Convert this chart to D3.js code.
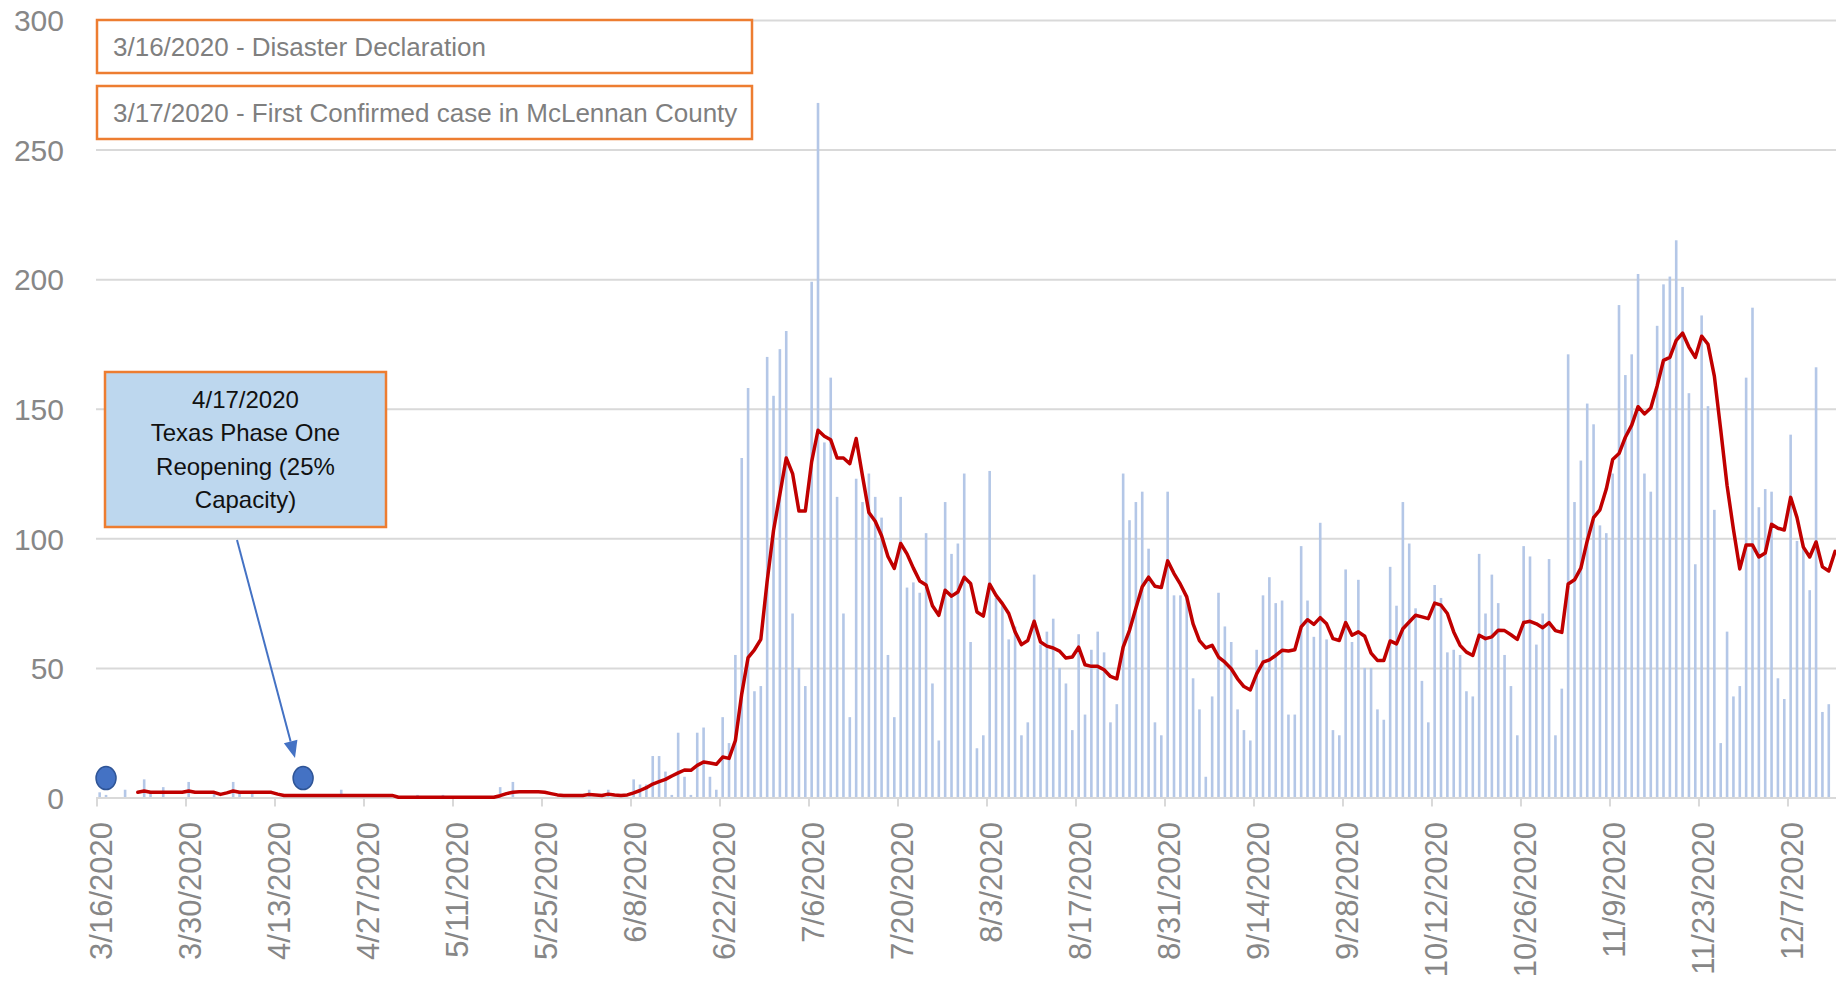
<!DOCTYPE html>
<html><head><meta charset="utf-8">
<script src="https://cdn.jsdelivr.net/npm/d3@7"></script>
<style>
html,body{margin:0;padding:0;background:#fff;}
svg{display:block;}
</style></head>
<body>
<svg id="chart" width="1836" height="988"></svg>
<script>
// ---------------- DATA ----------------
const startDate = "2020-03-16";
// daily new cases, one value per day starting 3/16/2020
const dailyCases = [
  2,1,0,0,3,0,0,7,2,0,
  4,0,0,0,6,0,0,0,2,0,
  0,6,2,0,2,0,0,0,0,1,
  0,0,0,0,0,0,0,0,3,0,
  0,0,0,0,0,0,0,0,0,0,
  1,0,0,0,1,0,0,0,0,0,
  0,0,0,4,0,6,0,0,0,0,
  0,0,0,0,0,0,0,3,0,0,
  3,0,0,0,7,5,5,16,16,10,
  1,25,8,1,25,27,8,3,31,21,
  55,131,158,41,43,170,155,173,180,71,
  50,43,199,268,137,162,116,71,31,123,
  114,125,116,108,55,31,116,81,83,79,
  102,44,22,114,94,98,125,60,19,24,
  126,77,75,61,66,24,29,86,59,64,
  69,50,44,26,63,32,57,64,56,29,
  36,125,107,114,118,96,29,24,118,78,
  78,78,46,34,8,39,79,66,60,34,
  26,22,57,78,85,75,76,32,32,97,
  76,62,106,61,26,24,88,60,84,50,
  50,34,30,89,74,114,98,73,45,29,
  82,77,56,57,55,41,39,94,71,86,
  75,55,43,24,97,93,59,71,92,24,
  42,171,114,130,152,144,105,102,125,190,
  163,171,202,125,118,182,198,201,215,197,
  156,90,186,151,111,21,64,39,43,162,
  189,112,119,118,46,38,140,99,97,80,
  166,33,36
];
// 7-day moving average, same day indexing
const movingAverage = [
  null,null,null,null,null,null,2,2.5,2,2,
  2,2,2,2,2.5,2,2,2,2,1.2,
  1.8,2.5,2,2,2,2,2,2,1.3,0.8,
  0.8,0.8,0.8,0.8,0.8,0.8,0.8,0.8,0.8,0.8,
  0.8,0.8,0.8,0.8,0.8,0.8,0.8,0.1,0.1,0.1,
  0.1,0.1,0.1,0.1,0.1,0.1,0.1,0.1,0.1,0.1,
  0.1,0.1,0.1,0.7,1.5,2,2.2,2.2,2.2,2.2,
  2,1.5,1,0.8,0.8,0.8,0.8,1.2,1,0.8,
  1.3,1,0.8,1,1.8,2.7,3.8,5.2,6.1,7,
  8.3,9.5,10.6,10.5,12.4,13.7,13.3,12.8,15.6,15.1,
  22,40,54,57,61,83.5,103,117,131,125,
  110.5,110.5,129.6,141.7,139.4,138,131,131,128.8,138.5,
  124,110,106.6,101,93,88.4,98,94,88.5,83.5,
  82,74,70.3,80,77.7,79.3,85,82.6,71.6,70,
  82.3,78,74.8,71,63.9,59,60.6,68,60,58.4,
  57.7,56.5,53.8,54.2,58,51.2,50.6,50.6,49.3,46.7,
  45.8,58,64.5,73,81.3,85,81.5,81,91.3,86.4,
  82.3,77.4,67,60.5,57.7,58.7,54.2,52.2,49.7,45.8,
  42.8,41.5,47.7,52.2,53.1,54.8,56.8,56.5,57,65.8,
  68.6,66.8,69.4,67,61.3,60.6,67.5,62.6,63.9,62.2,
  55.7,52.9,52.9,60.4,59.3,65.1,67.7,70.3,69.7,69,
  75,74.2,71,63.9,58.7,56.1,54.8,62.6,61.3,62,
  64.5,64.4,62.8,61,67.5,68,67,65.5,67.5,64.4,
  63.7,82.4,84,88.5,99,108,111,119,130.4,132.7,
  139,143.7,150.8,148,150.3,158.8,168.7,169.8,176.4,179.2,
  173.8,169.8,178,174.9,162.6,141.9,120.4,103.5,88.2,97.4,
  97.4,92.8,94.3,105.4,103.9,103.2,115.8,108,96.6,92.8,
  98.6,89,87.4,95
];
const eventDates = ["2020-03-17", "2020-04-17"];
const eventValues = [7.5, 7.5];
const xTickDates = ["2020-03-16","2020-03-30","2020-04-13","2020-04-27","2020-05-11","2020-05-25",
  "2020-06-08","2020-06-22","2020-07-06","2020-07-20","2020-08-03","2020-08-17","2020-08-31",
  "2020-09-14","2020-09-28","2020-10-12","2020-10-26","2020-11-09","2020-11-23","2020-12-07"];
const xTickLabels = ["3/16/2020","3/30/2020","4/13/2020","4/27/2020","5/11/2020","5/25/2020",
  "6/8/2020","6/22/2020","7/6/2020","7/20/2020","8/3/2020","8/17/2020","8/31/2020",
  "9/14/2020","9/28/2020","10/12/2020","10/26/2020","11/9/2020","11/23/2020","12/7/2020"];
const yTicks = [0, 50, 100, 150, 200, 250, 300];
const headerNotes = ["3/16/2020 - Disaster Declaration", "3/17/2020 - First Confirmed case in McLennan County"];
const calloutLines = ["4/17/2020", "Texas Phase One", "Reopening (25%", "Capacity)"];

// ---------------- LAYOUT ----------------
const W = 1836, H = 988;
const plotLeft = 96.5, dayWidth = 6.357, spanDays = 290;
const yBottom = 797.5, yTop = 20;
const barW = 2.6;
const FONT = "'Liberation Sans', Arial, sans-serif";

const parse = d3.utcParse("%Y-%m-%d");
const start = parse(startDate);
const dayDate = i => d3.utcDay.offset(start, i);

const x = d3.scaleUtc()
  .domain([start, d3.utcDay.offset(start, spanDays)])
  .range([plotLeft, plotLeft + spanDays * dayWidth]);
const y = d3.scaleLinear().domain([0, 300]).range([yBottom, yTop]);
const dw = x(dayDate(1)) - x(dayDate(0));
const cx = i => x(dayDate(i)) + dw / 2;

const svg = d3.select("#chart");
svg.append("rect").attr("width", W).attr("height", H).attr("fill", "#fff");

// gridlines + y labels
const gy = svg.append("g").attr("transform", `translate(96,0)`)
  .call(d3.axisLeft(y).tickValues(yTicks).tickSize(-(W - 96)).tickPadding(32).tickFormat(d3.format("d")));
gy.select(".domain").remove();
gy.selectAll(".tick line").attr("stroke", "#d9d9d9").attr("stroke-width", 2);
gy.selectAll(".tick text").attr("fill", "#878787").style("font-family", FONT).style("font-size", "30px").attr("dy", "0.36em");

// bars
svg.append("g").selectAll("rect").data(dailyCases).join("rect")
  .attr("x", (d, i) => cx(i) - barW / 2)
  .attr("width", barW)
  .attr("y", d => y(d))
  .attr("height", d => yBottom - y(d))
  .attr("fill", "#b4c7e7");

// x axis
const tickDates = xTickDates.map(parse);
const gx = svg.append("g").attr("transform", `translate(0,${yBottom})`)
  .call(d3.axisBottom(x).tickValues(tickDates).tickSize(9).tickSizeOuter(0)
    .tickFormat((d, i) => xTickLabels[i]));
gx.select(".domain").attr("stroke", "#d9d9d9").attr("stroke-width", 2);
gx.selectAll(".tick line").attr("stroke", "#d9d9d9").attr("stroke-width", 2);
gx.selectAll(".tick text")
  .attr("fill", "#878787").style("font-family", FONT).style("font-size", "31px")
  .attr("x", 0).attr("y", 0).attr("dy", "0.36em")
  .attr("transform", `translate(${dw / 2 + 0.5},24.5) rotate(-90)`)
  .style("text-anchor", "end");

// moving average line
const line = d3.line().defined(d => d != null).x((d, i) => cx(i)).y(d => y(d));
svg.append("path").datum(movingAverage)
  .attr("d", line)
  .attr("fill", "none").attr("stroke", "#c00000").attr("stroke-width", 3.5)
  .attr("stroke-linejoin", "round").attr("stroke-linecap", "round");

// event markers
svg.append("g").selectAll("ellipse").data(eventDates).join("ellipse")
  .attr("cx", d => x(parse(d)) + dw / 2)
  .attr("cy", (d, i) => y(eventValues[i]))
  .attr("rx", 10).attr("ry", 11.5)
  .attr("fill", "#4472c4").attr("stroke", "#2f5597").attr("stroke-width", 1.5);

// header annotation boxes
const boxes = [{y: 20}, {y: 86}];
headerNotes.forEach((t, i) => {
  const by = boxes[i].y, bh = 53;
  svg.append("rect").attr("x", 97).attr("y", by).attr("width", 655).attr("height", bh)
    .attr("fill", "#fff").attr("stroke", "#ed7d31").attr("stroke-width", 2.5);
  svg.append("text").attr("x", 113).attr("y", by + bh / 2 + 9.2)
    .attr("fill", "#7f7f7f").style("font-family", FONT).style("font-size", "26px").text(t);
});

// callout box
svg.append("rect").attr("x", 105).attr("y", 372).attr("width", 281).attr("height", 155)
  .attr("fill", "#bdd7ee").attr("stroke", "#ed7d31").attr("stroke-width", 2.5);
calloutLines.forEach((t, i) => {
  svg.append("text").attr("x", 245.5).attr("y", 408 + i * 33.4)
    .attr("text-anchor", "middle").attr("fill", "#111")
    .style("font-family", FONT).style("font-size", "24px").text(t);
});

// arrow
const a0 = [237, 540], tip = [295, 758];
const vx = tip[0] - a0[0], vy = tip[1] - a0[1], L = Math.hypot(vx, vy);
const ux = vx / L, uy = vy / L, hl = 17, hw = 7;
const bx = tip[0] - hl * ux, by2 = tip[1] - hl * uy;
svg.append("line").attr("x1", a0[0]).attr("y1", a0[1]).attr("x2", bx).attr("y2", by2)
  .attr("stroke", "#4472c4").attr("stroke-width", 2);
svg.append("polygon")
  .attr("points", [[tip[0], tip[1]], [bx - hw * uy, by2 + hw * ux], [bx + hw * uy, by2 - hw * ux]].map(p => p.join(",")).join(" "))
  .attr("fill", "#4472c4");
</script>
</body></html>
